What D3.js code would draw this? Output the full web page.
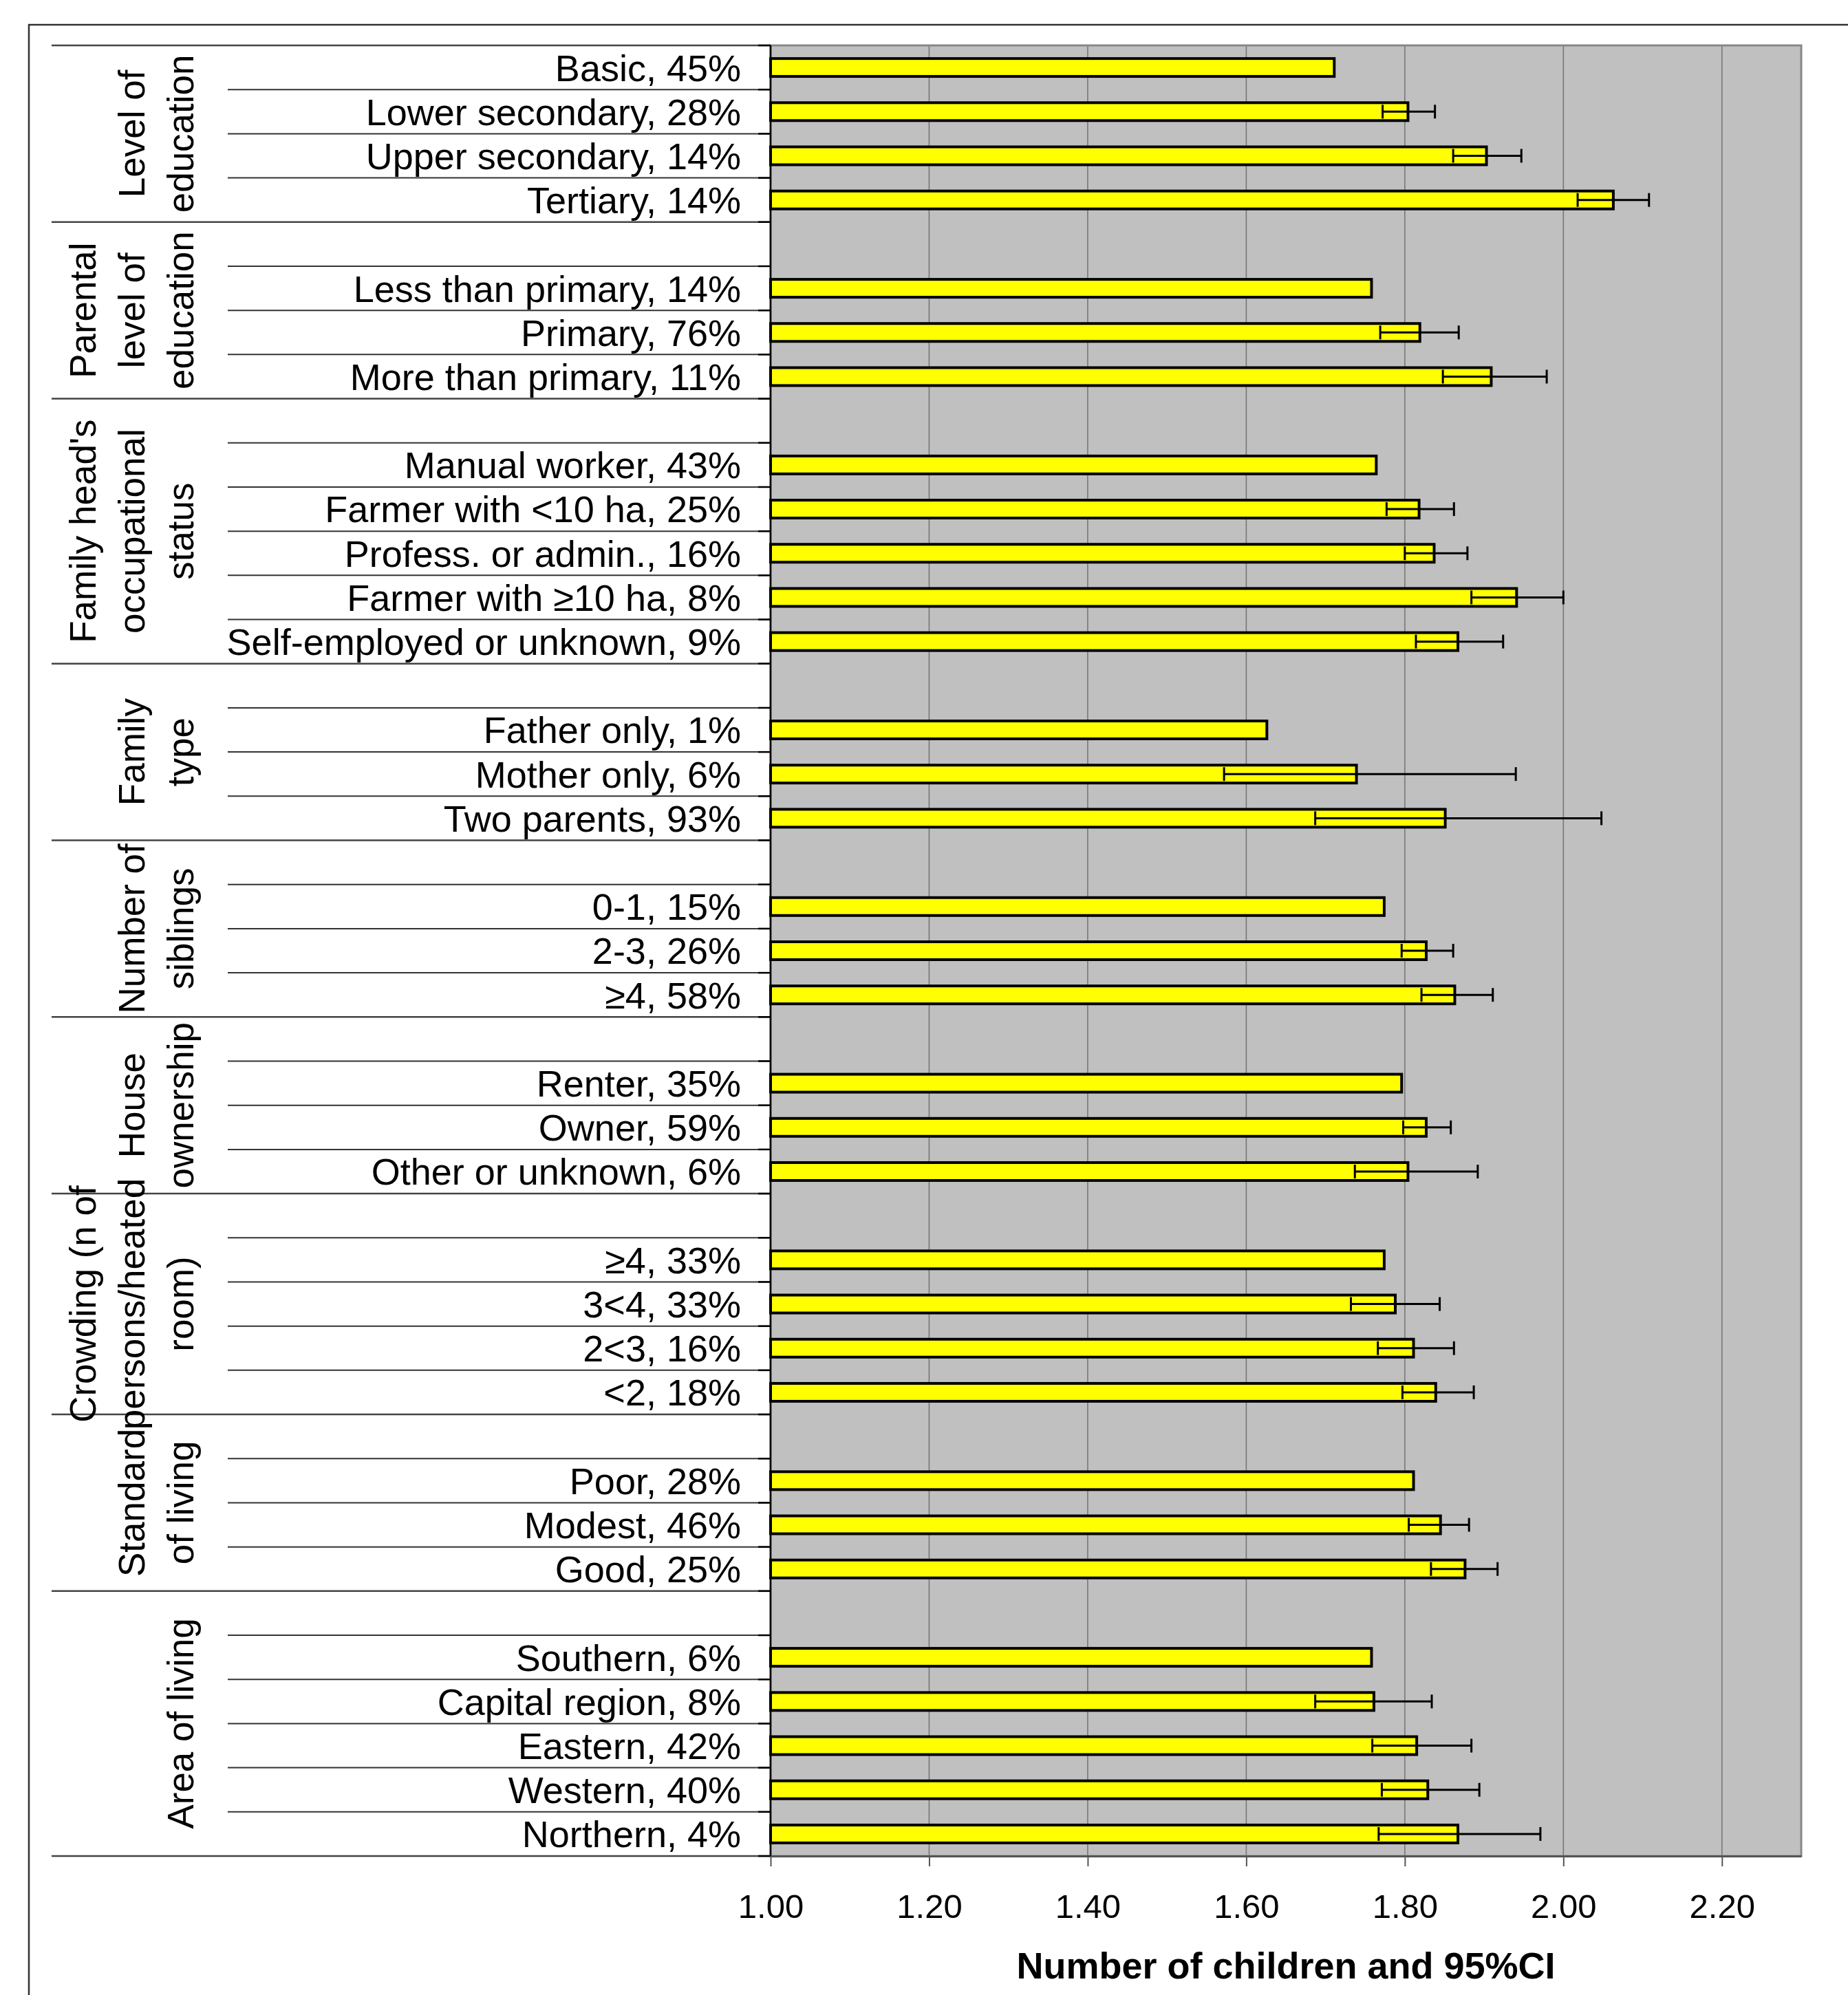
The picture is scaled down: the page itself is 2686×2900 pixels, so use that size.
<!DOCTYPE html>
<html>
<head>
<meta charset="utf-8">
<script src="https://cdn.jsdelivr.net/npm/d3@7"></script>
<style>
  body { margin: 0; background: #fff; }
  text { font-family: "Liberation Sans", Arial, sans-serif; fill: #000; }
</style>
</head>
<body>
<script>
// group labels (each entry = lines of the rotated label)
var groupLabels = [
  ["Level of", "education"],
  ["Parental", "level of", "education"],
  ["Family head's", "occupational", "status"],
  ["Family", "type"],
  ["Number of", "siblings"],
  ["House", "ownership"],
  ["Crowding (n of", "persons/heated", "room)"],
  ["Standard", "of living"],
  ["Area of living"]
];

var categories = [
  "Basic, 45%", "Lower secondary, 28%", "Upper secondary, 14%", "Tertiary, 14%",
  "Less than primary, 14%", "Primary, 76%", "More than primary, 11%",
  "Manual worker, 43%", "Farmer with <10 ha, 25%", "Profess. or admin., 16%",
  "Farmer with \u226510 ha, 8%", "Self-employed or unknown, 9%",
  "Father only, 1%", "Mother only, 6%", "Two parents, 93%",
  "0-1, 15%", "2-3, 26%", "\u22654, 58%",
  "Renter, 35%", "Owner, 59%", "Other or unknown, 6%",
  "\u22654, 33%", "3<4, 33%", "2<3, 16%", "<2, 18%",
  "Poor, 28%", "Modest, 46%", "Good, 25%",
  "Southern, 6%", "Capital region, 8%", "Eastern, 42%", "Western, 40%", "Northern, 4%"
];

var categoryGroup = [
  0, 0, 0, 0,
  1, 1, 1,
  2, 2, 2, 2, 2,
  3, 3, 3,
  4, 4, 4,
  5, 5, 5,
  6, 6, 6, 6,
  7, 7, 7,
  8, 8, 8, 8, 8
];

// mean number of children
var means = [
  1.711, 1.804, 1.903, 2.063,
  1.758, 1.819, 1.909,
  1.764, 1.818, 1.837, 1.941, 1.867,
  1.626, 1.739, 1.851,
  1.774, 1.827, 1.863,
  1.796, 1.827, 1.804,
  1.774, 1.788, 1.811, 1.839,
  1.811, 1.845, 1.876,
  1.758, 1.761, 1.815, 1.829, 1.867
];

// 95% CI (null = reference category)
var ciLow = [
  null, 1.772, 1.861, 2.018,
  null, 1.769, 1.848,
  null, 1.777, 1.800, 1.884, 1.814,
  null, 1.572, 1.687,
  null, 1.796, 1.821,
  null, 1.798, 1.737,
  null, 1.732, 1.766, 1.797,
  null, 1.805, 1.833,
  null, 1.687, 1.759, 1.771, 1.767
];

var ciHigh = [
  null, 1.838, 1.947, 2.108,
  null, 1.868, 1.979,
  null, 1.862, 1.879, 2.000, 1.924,
  null, 1.940, 2.048,
  null, 1.861, 1.911,
  null, 1.858, 1.892,
  null, 1.844, 1.862, 1.887,
  null, 1.881, 1.917,
  null, 1.834, 1.884, 1.894, 1.971
];

var tickValues = [1.0, 1.2, 1.4, 1.6, 1.8, 2.0, 2.2];
var axisTitle = "Number of children and 95%CI";

// build rows: each group after the first starts with an empty row
var rows = [];
categories.forEach(function(c, i) {
  var g = categoryGroup[i];
  if (g > 0 && categoryGroup[i - 1] !== g) {
    rows.push({id: "blank" + g, group: g, blank: true});
  }
  rows.push({id: "c" + i, group: g, label: c, mean: means[i], lo: ciLow[i], hi: ciHigh[i]});
});

var W = 2686, H = 2900;
var plot = {left: 1120, right: 2618, top: 66, bottom: 2698};

var svg = d3.select("body").append("svg")
    .attr("width", W)
    .attr("height", H);

svg.append("rect").attr("width", W).attr("height", H).attr("fill", "#fff");

// outer frame (only top and left edges visible)
svg.append("path")
    .attr("d", "M42," + H + " V36 H" + W)
    .attr("fill", "none")
    .attr("stroke", "#333")
    .attr("stroke-width", 2.5);

var x = d3.scaleLinear().domain([1, 2.3]).range([plot.left, plot.right]);
var y = d3.scaleBand().domain(rows.map(function(d) { return d.id; }))
    .range([plot.top, plot.bottom]).padding(0);
var step = y.step();

// plot background
svg.append("rect")
    .attr("x", plot.left).attr("y", plot.top)
    .attr("width", plot.right - plot.left).attr("height", plot.bottom - plot.top)
    .attr("fill", "#c0c0c0");

// vertical gridlines
svg.selectAll("line.grid")
  .data(tickValues.slice(1))
  .enter().append("line")
    .attr("class", "grid")
    .attr("x1", function(d) { return x(d); }).attr("x2", function(d) { return x(d); })
    .attr("y1", plot.top).attr("y2", plot.bottom)
    .attr("stroke", "#777").attr("stroke-width", 1.6);

// plot border
svg.append("rect")
    .attr("x", plot.left).attr("y", plot.top)
    .attr("width", plot.right - plot.left).attr("height", plot.bottom - plot.top)
    .attr("fill", "none")
    .attr("stroke", "#888").attr("stroke-width", 3);

// table lines on the left: group boundaries and row boundaries
var bounds = [];
rows.forEach(function(d, i) {
  var first = i === 0 || rows[i - 1].group !== d.group;
  bounds.push({y: y(d.id), group: first});
});
bounds.push({y: plot.bottom, group: true});

svg.selectAll("line.sep")
  .data(bounds)
  .enter().append("line")
    .attr("class", "sep")
    .attr("x1", function(d) { return d.group ? 75 : 331; })
    .attr("x2", plot.left)
    .attr("y1", function(d) { return d.y; })
    .attr("y2", function(d) { return d.y; })
    .attr("stroke", function(d) { return d.group ? "#444" : "#333"; })
    .attr("stroke-width", function(d) { return d.group ? 2.5 : 2; });

// category axis line and its ticks
svg.append("line")
    .attr("x1", plot.left).attr("x2", plot.left)
    .attr("y1", plot.top).attr("y2", plot.bottom)
    .attr("stroke", "#000").attr("stroke-width", 2.5);

svg.selectAll("line.ytick")
  .data(bounds)
  .enter().append("line")
    .attr("class", "ytick")
    .attr("x1", plot.left - 18).attr("x2", plot.left)
    .attr("y1", function(d) { return d.y; })
    .attr("y2", function(d) { return d.y; })
    .attr("stroke", "#000").attr("stroke-width", 2.5);

// category labels
svg.selectAll("text.cat")
  .data(rows.filter(function(d) { return !d.blank; }))
  .enter().append("text")
    .attr("class", "cat")
    .attr("x", 1077)
    .attr("y", function(d) { return y(d.id) + step / 2; })
    .attr("dy", "0.36em")
    .attr("text-anchor", "end")
    .style("font-size", "54px")
    .text(function(d) { return d.label; });

// rotated group labels
groupLabels.forEach(function(lines, g) {
  var gr = rows.filter(function(d) { return d.group === g; });
  var y0 = y(gr[0].id), y1 = y(gr[gr.length - 1].id) + step;
  var n = lines.length;
  var t = svg.append("g")
      .attr("transform", "translate(0," + ((y0 + y1) / 2) + ") rotate(-90)");
  lines.forEach(function(line, i) {
    t.append("text")
        .attr("x", 0)
        .attr("y", 262 - (n - 1 - i) * 71)
        .attr("dy", "0.36em")
        .attr("text-anchor", "middle")
        .style("font-size", "53px")
        .text(line);
  });
});

// bars
var bh = 26;
var data = rows.filter(function(d) { return !d.blank; });
svg.selectAll("rect.bar")
  .data(data)
  .enter().append("rect")
    .attr("class", "bar")
    .attr("x", x(1))
    .attr("y", function(d) { return y(d.id) + step / 2 - bh / 2; })
    .attr("width", function(d) { return x(d.mean) - x(1); })
    .attr("height", bh)
    .attr("fill", "#ffff00")
    .attr("stroke", "#000")
    .attr("stroke-width", 4);

// error bars
var ci = data.filter(function(d) { return d.lo !== null; });
var eb = svg.selectAll("g.err")
  .data(ci)
  .enter().append("g")
    .attr("class", "err")
    .attr("stroke", "#000")
    .attr("stroke-width", 3);

eb.append("line")
    .attr("x1", function(d) { return x(d.lo); })
    .attr("x2", function(d) { return x(d.hi); })
    .attr("y1", function(d) { return y(d.id) + step / 2; })
    .attr("y2", function(d) { return y(d.id) + step / 2; });

["lo", "hi"].forEach(function(k) {
  eb.append("line")
      .attr("x1", function(d) { return x(d[k]); })
      .attr("x2", function(d) { return x(d[k]); })
      .attr("y1", function(d) { return y(d.id) + step / 2 - 10; })
      .attr("y2", function(d) { return y(d.id) + step / 2 + 10; });
});

// value axis
var xAxis = d3.axisBottom(x)
    .tickValues(tickValues)
    .tickFormat(d3.format(".2f"))
    .tickSize(15)
    .tickSizeOuter(0)
    .tickPadding(40);

var ax = svg.append("g")
    .attr("transform", "translate(0," + plot.bottom + ")")
    .call(xAxis);
ax.select(".domain").attr("stroke", "#555").attr("stroke-width", 3);
ax.selectAll(".tick line").attr("stroke", "#555").attr("stroke-width", 2);
ax.selectAll(".tick text")
    .style("font-family", "'Liberation Sans', Arial, sans-serif")
    .style("font-size", "49px")
    .attr("fill", "#000");

svg.append("text")
    .attr("x", (plot.left + plot.right) / 2)
    .attr("y", 2876)
    .attr("text-anchor", "middle")
    .style("font-size", "54px")
    .style("font-weight", "bold")
    .text(axisTitle);
</script>
</body>
</html>
